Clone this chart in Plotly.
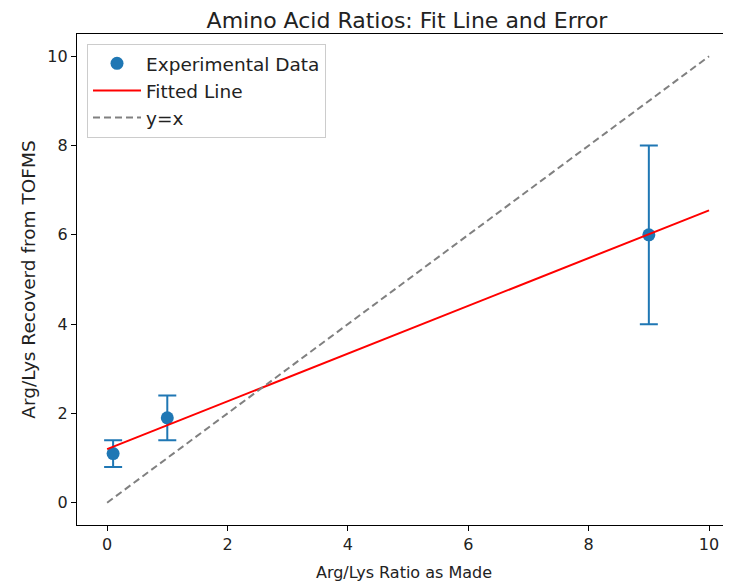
import plotly.graph_objects as go

# Data
ratio_made = [0.1, 1.0, 9.0]
recovered = [1.1, 1.9, 6.0]
recovered_err = [0.3, 0.5, 2.0]
fit_x = [0, 10]
fit_y = [1.2, 6.55]
ident_x = [0, 10]
ident_y = [0, 10]
tick_vals = [0, 2, 4, 6, 8, 10]

BLUE = "#1f77b4"
FONT = "DejaVu Sans"

# The page body adds an 8px margin, so the figure is sized/offset to compensate.
W, H = 723, 578

fig = go.Figure()
fig.add_trace(go.Scatter(
    x=ratio_made, y=recovered, mode="markers", name="Experimental Data",
    legendgroup="a",
    marker=dict(color=BLUE, size=13),
    error_y=dict(type="data", array=recovered_err, visible=True, color=BLUE,
                 thickness=2, width=9),
))
fig.add_trace(go.Scatter(
    x=fit_x, y=fit_y, mode="lines", name="Fitted Line", legendgroup="b",
    line=dict(color="red", width=2),
))
fig.add_trace(go.Scatter(
    x=ident_x, y=ident_y, mode="lines", name="y=x", legendgroup="c",
    line=dict(color="gray", width=2, dash="7px,4px"),
))

axis_common = dict(
    showgrid=False, zeroline=False, showline=True, linecolor="black", linewidth=1.2,
    ticks="outside", ticklen=5, tickwidth=1.2, tickcolor="black",
    tickfont=dict(family=FONT, size=16, color="#222"),
    tickvals=tick_vals, automargin=False,
)

fig.update_layout(
    width=W, height=H,
    margin=dict(l=69, r=0, t=26, b=61, autoexpand=False),
    plot_bgcolor="white", paper_bgcolor="white",
    font=dict(family=FONT, color="#222"),
    title=dict(text="Amino Acid Ratios: Fit Line and Error", x=(399 / W), xanchor="center",
               y=1 - 12 / H, yanchor="middle",
               font=dict(family=FONT, size=22, color="#222"), automargin=False),
    xaxis=dict(range=[-0.5, 10.365], mirror=True,
               title=dict(text="Arg/Lys Ratio as Made", font=dict(family=FONT, size=16), standoff=13),
               **axis_common),
    yaxis=dict(range=[-0.5, 10.5],
               title=dict(text="Arg/Lys Recoverd from TOFMS", font=dict(family=FONT, size=18.5), standoff=6),
               **axis_common),
    legend=dict(x=0.0153, y=0.98, xanchor="left", yanchor="top",
                bgcolor="rgba(255,255,255,0.8)", bordercolor="#cccccc", borderwidth=1,
                font=dict(family=FONT, size=18.5, color="#222"),
                traceorder="grouped", tracegroupgap=0,
                itemwidth=48),
    showlegend=True,
)

fig.write_html("out.html")
